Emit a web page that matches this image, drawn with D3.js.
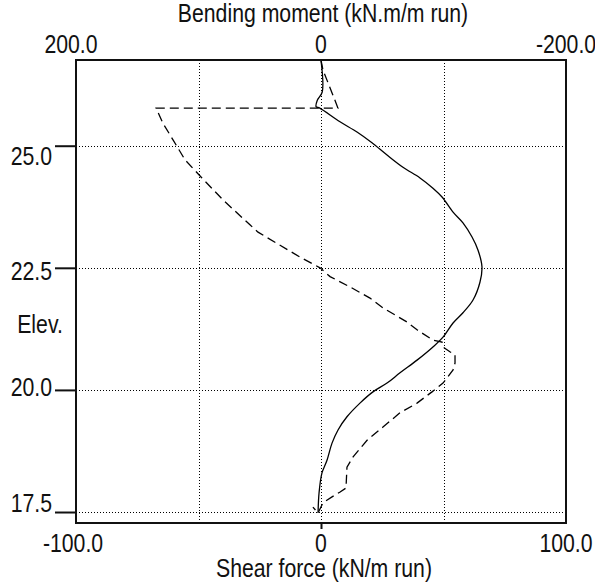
<!DOCTYPE html>
<html>
<head>
<meta charset="utf-8">
<script src="https://cdn.jsdelivr.net/npm/d3@7"></script>
<style>
    body { margin: 0; background: #fff; }
    text { font-family: "Liberation Sans", Arial, sans-serif; font-size: 25px; fill: #111; }
</style>
</head>
<body>
<svg id="chart" width="595" height="585"></svg>
<script>
// elevation ticks on the left, grid for shear, end labels top and bottom
var elevTicks = [25.0, 22.5, 20.0, 17.5];
var shearGrid = [-50, 0, 50];
var momentTicks = [200, 0, -200];
var shearTicks = [-100, 0, 100];

// bending moment (kN.m/m run) against elevation
var momentElev = [26.75, 26.10, 25.93, 25.80, 25.77, 25.49, 25.28, 25.06, 24.81, 24.56,
    24.34, 24.13, 23.95, 23.64, 23.42, 23.13, 22.86, 22.52, 22.21, 21.84,
    21.58, 21.37, 21.08, 20.88, 20.61, 20.35, 20.14, 19.96, 19.73, 19.45,
    19.18, 18.91, 18.56, 18.30, 17.89, 17.48];
var momentVal = [0, -1, 3, 4, 1, -15.5, -29.4, -41.6, -53.9, -66.9,
    -80.8, -91.4, -98.8, -107.8, -115.9, -123.3, -128.2, -131.4, -129.8, -124.1,
    -115.9, -107.8, -99.6, -91.4, -78.4, -64.5, -53.9, -42.4, -31.8, -21.2,
    -13.9, -9.0, -4.9, -0.8, 1.6, 2.4];

// shear force (kN/m run) against elevation
var shearElev = [26.75, 26.55, 25.93, 25.77, 25.77, 25.46, 25.12, 24.71, 24.34, 23.89,
    23.38, 23.23, 22.72, 22.50, 22.32, 22.11, 21.88, 21.68, 21.39, 21.23,
    21.02, 20.98, 20.88, 20.78, 20.72, 20.55, 20.41, 20.27, 20.14, 19.96,
    19.73, 19.53, 19.24, 18.97, 18.63, 18.42, 17.99, 17.91, 17.81, 17.69,
    17.48, 17.60];
var shearVal = [0, 0.8, 5.7, 6.9, -67.3, -64.5, -60.4, -55.5, -48.6, -40.0,
    -29.0, -25.7, -8.6, -0.4, 3.7, 11.8, 20.0, 25.3, 35.1, 39.2,
    45.7, 49.4, 49.8, 52.6, 54.7, 54.7, 53.9, 51.8, 49.8, 45.3,
    39.2, 32.2, 25.3, 18.8, 13.1, 10.6, 10.2, 7.8, 4.5, 0.8,
    -1.2, -3.3];

var svg = d3.select("#chart"),
    marginLeft = 76, marginTop = 60,
    width = 490, height = 463;

var g = svg.append("g").attr("transform", "translate(" + marginLeft + "," + marginTop + ")");

var y = d3.scaleLinear().domain([17.275, 26.755]).range([height, 0]);
var xShear = d3.scaleLinear().domain([-100, 100]).range([0, width]);
var xMoment = d3.scaleLinear().domain([200, -200]).range([0, width]);
// the elevation labels drift a little off their ticks in the original
var yLabel = d3.scaleLinear().domain([17.5, 25]).range([y(17.5), y(25) + 19]);

function fmt(d) {
    return d === 0 ? "0" : d.toFixed(1);
}

// the original font is a tall narrow one, so squeeze the text sideways
function label(sel, x, yy, anchor, txt) {
    return sel.append("text")
        .attr("transform", "translate(" + x + "," + yy + ") scale(0.85,1)")
        .attr("text-anchor", anchor)
        .text(txt);
}

// dotted grid
g.selectAll(".hgrid")
    .data(elevTicks)
    .enter().append("line")
    .attr("x1", 0).attr("x2", width)
    .attr("y1", function (d) { return Math.round(y(d)) + 0.5; })
    .attr("y2", function (d) { return Math.round(y(d)) + 0.5; })
    .attr("stroke", "#000")
    .attr("stroke-dasharray", "1,2");

g.selectAll(".vgrid")
    .data(shearGrid)
    .enter().append("line")
    .attr("y1", 0).attr("y2", height)
    .attr("x1", function (d) { return Math.round(xShear(d)) + 0.5; })
    .attr("x2", function (d) { return Math.round(xShear(d)) + 0.5; })
    .attr("stroke", "#000")
    .attr("stroke-dasharray", "1,2");

// curves
var momentData = momentElev.map(function (e, i) { return [e, momentVal[i]]; });
var shearData = shearElev.map(function (e, i) { return [e, shearVal[i]]; });

g.append("path")
    .datum(momentData)
    .attr("fill", "none")
    .attr("stroke", "#000")
    .attr("stroke-width", 1.3)
    .attr("d", d3.line()
        .x(function (d) { return xMoment(d[1]); })
        .y(function (d) { return y(d[0]); })
        .curve(d3.curveCatmullRom));

g.append("path")
    .datum(shearData)
    .attr("fill", "none")
    .attr("stroke", "#000")
    .attr("stroke-width", 1.3)
    .attr("stroke-dasharray", "9,5")
    .attr("d", d3.line()
        .x(function (d) { return xShear(d[1]); })
        .y(function (d) { return y(d[0]); }));

// frame
g.append("rect")
    .attr("x", 0).attr("y", 0)
    .attr("width", width).attr("height", height)
    .attr("fill", "none")
    .attr("stroke", "#111")
    .attr("stroke-width", 2);

// left axis ticks
var leftAxis = g.append("g")
    .call(d3.axisLeft(y).tickValues(elevTicks).tickSize(21).tickFormat(""));
leftAxis.select(".domain").remove();
leftAxis.selectAll(".tick line").attr("stroke", "#111").attr("stroke-width", 2);

elevTicks.forEach(function (d) {
    label(g, -24, yLabel(d), "end", d.toFixed(1));
});
label(g, -36, 273, "middle", "Elev.");

// top axis (bending moment)
momentTicks.forEach(function (d) {
    label(g, xMoment(d) - (d === 200 ? 5 : 0), -7, "middle", fmt(d));
});
label(g, width / 2 + 2, -38, "middle", "Bending moment (kN.m/m run)");

// bottom axis (shear force)
var bottomAxis = g.append("g")
    .attr("transform", "translate(0," + height + ")")
    .call(d3.axisBottom(xShear).tickValues([0]).tickSize(6).tickFormat(""));
bottomAxis.select(".domain").remove();
bottomAxis.selectAll(".tick line").attr("stroke", "#111").attr("stroke-width", 2);

shearTicks.forEach(function (d) {
    label(g, xShear(d) - (d === -100 ? 3 : 0), height + 29, "middle", fmt(d));
});
label(g, width / 2 + 3, height + 54, "middle", "Shear force (kN/m run)");
</script>
</body>
</html>
